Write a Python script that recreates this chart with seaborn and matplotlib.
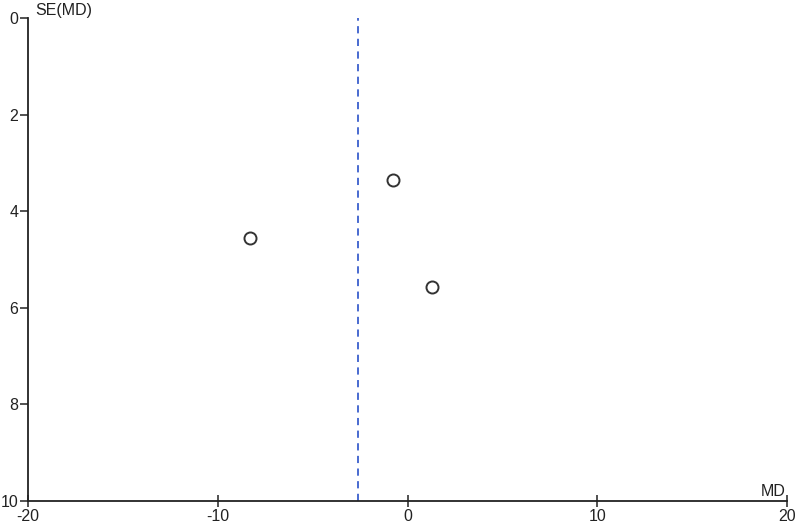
import matplotlib
matplotlib.use("Agg")
import pandas as pd
import seaborn as sns
import matplotlib.pyplot as plt

# study estimates
md = [-8.3, -0.75, 1.3]
se_md = [4.55, 3.35, 5.57]
pooled_md = -2.6

x_ticks = [-20, -10, 0, 10, 20]
y_ticks = [0, 2, 4, 6, 8, 10]

df = pd.DataFrame({"MD": md, "SE(MD)": se_md})

sns.set_style("white")
plt.rcParams["font.family"] = ["Liberation Sans", "DejaVu Sans"]
plt.rcParams["axes.unicode_minus"] = False

fig = plt.figure(figsize=(8, 5.26), dpi=100)
ax = fig.add_axes([0.035, 0.0475, 0.949, 0.918])

ax.axvline(pooled_md, ymin=0, ymax=1, color="#3a5fcd", linestyle=(0, (4, 3)), linewidth=1.3)
sns.scatterplot(data=df, x="MD", y="SE(MD)", ax=ax, s=75, marker="o",
                facecolor="white", edgecolor="#333333", linewidth=1.4, zorder=3)

ax.set_xlim(-20, 20)
ax.set_ylim(10, 0)
ax.set_xticks(x_ticks)
ax.set_yticks(y_ticks)
ax.set_xlabel("")
ax.set_ylabel("")

for side in ["top", "right"]:
    ax.spines[side].set_visible(False)
for side in ["left", "bottom"]:
    ax.spines[side].set_color("#222222")
    ax.spines[side].set_linewidth(1.3)

ax.tick_params(axis="x", direction="inout", length=9, width=1.1, colors="#222222",
               labelsize=11.5, pad=1, bottom=True)
ax.tick_params(axis="y", direction="out", length=6, width=1.1, colors="#222222",
               labelsize=11.5, pad=1, left=True)

ax.text(0.01, 1.0, "SE(MD)", transform=ax.transAxes, fontsize=11.5,
        color="#222222", ha="left", va="bottom")
ax.text(0.998, 0.005, "MD", transform=ax.transAxes, fontsize=11.5,
        color="#222222", ha="right", va="bottom")

fig.savefig("out.png", dpi=100, facecolor="white")
